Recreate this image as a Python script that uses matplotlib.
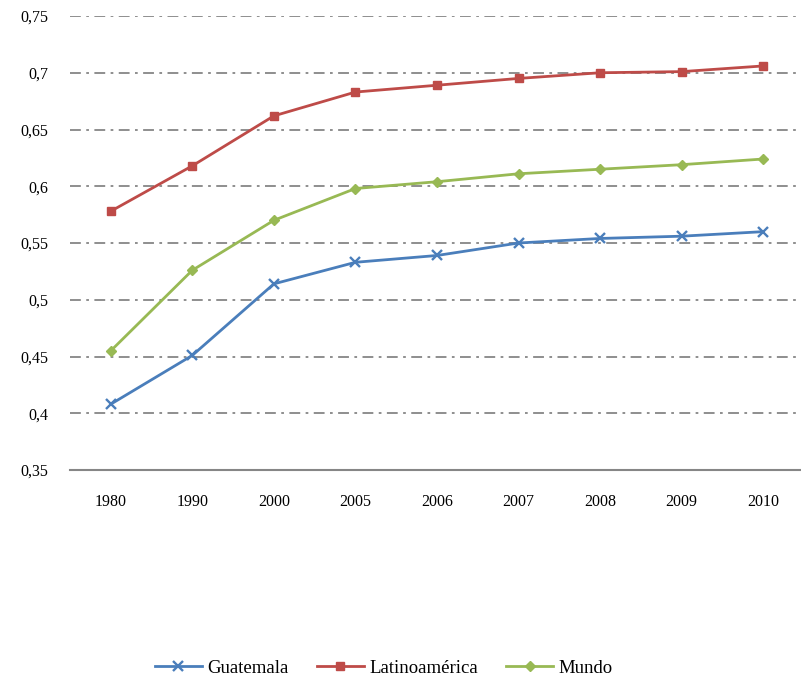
import matplotlib

matplotlib.use("Agg")
import matplotlib.pyplot as plt
from matplotlib.ticker import FuncFormatter

years = ["1980", "1990", "2000", "2005", "2006", "2007", "2008", "2009", "2010"]
guatemala = [0.408, 0.451, 0.514, 0.533, 0.539, 0.550, 0.554, 0.556, 0.560]
latinoamerica = [0.578, 0.618, 0.662, 0.683, 0.689, 0.695, 0.700, 0.701, 0.706]
mundo = [0.455, 0.526, 0.570, 0.598, 0.604, 0.611, 0.615, 0.619, 0.624]
yticks = [0.35, 0.4, 0.45, 0.5, 0.55, 0.6, 0.65, 0.7, 0.75]

C_GUA = "#4a7ebb"
C_LAT = "#be4b48"
C_MUN = "#98b954"
GRID = "#868686"

plt.rcParams["font.family"] = ["Liberation Serif", "DejaVu Serif"]

fig = plt.figure(figsize=(8.01, 6.8), dpi=100)
ax = fig.add_axes([70 / 801, 1 - 470 / 680, 734 / 801, 454 / 680])

x = list(range(len(years)))
ax.plot(x, guatemala, color=C_GUA, lw=2, marker="x", ms=6.5, mew=1.7,
        label="Guatemala", zorder=3)
ax.plot(x, latinoamerica, color=C_LAT, lw=2, marker="s", ms=5.5,
        label="Latinoamérica", zorder=3)
ax.plot(x, mundo, color=C_MUN, lw=2, marker="D", ms=5.5,
        label="Mundo", zorder=3)

ax.set_xlim(-0.5, len(years) - 0.5)
ax.set_ylim(0.35, 0.75)
ax.set_yticks(yticks)
ax.yaxis.set_major_formatter(FuncFormatter(lambda v, _: f"{v:g}".replace(".", ",")))
ax.set_xticks(x)
ax.set_xticklabels(years)
ax.tick_params(axis="both", length=0, labelsize=11.5, colors="black")
ax.tick_params(axis="y", pad=15.5)
ax.tick_params(axis="x", pad=17)

for v in yticks[1:]:
    ax.axhline(v, color=GRID, lw=1.3, dashes=(6, 3, 1.5, 3), zorder=1)

for s in ("top", "right", "left"):
    ax.spines[s].set_visible(False)
ax.spines["bottom"].set_color(GRID)
ax.spines["bottom"].set_linewidth(1.5)

fig.legend(loc="center", bbox_to_anchor=(384 / 801, 1 - 668 / 680), ncol=3,
           frameon=False, fontsize=13.5, handlelength=2.5, columnspacing=1.5,
           handletextpad=0.3)

fig.savefig("out.png", dpi=100)
